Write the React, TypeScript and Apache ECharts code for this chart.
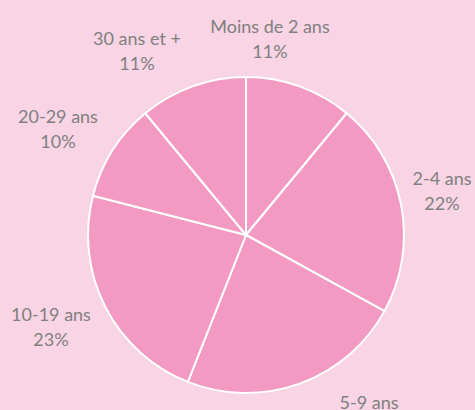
import React, { useEffect, useRef } from "react";
import * as echarts from "echarts";

const categories = ["Moins de 2 ans", "2-4 ans", "5-9 ans", "10-19 ans", "20-29 ans", "30 ans et +"];
const shares = [11, 22, 23, 23, 10, 11];
// label centre positions (text only)
const labelPos: [number, number][] = [
  [270, 38],
  [442, 190],
  [369, 414],
  [51, 326],
  [58, 128],
  [137, 50],
];

export default function App() {
  const ref = useRef<HTMLDivElement>(null);
  useEffect(() => {
    document.body.style.margin = "0";
    const chart = echarts.init(ref.current!, null, { renderer: "svg" });
    chart.setOption({
      animation: false,
      backgroundColor: "#F9D4E4",
      series: [
        {
          type: "pie",
          center: [246, 235],
          radius: 158,
          startAngle: 90,
          clockwise: true,
          data: categories.map((c, i) => ({ name: c, value: shares[i] })),
          itemStyle: { color: "#F39AC2", borderColor: "#ffffff", borderWidth: 2 },
          label: {
            show: true,
            position: "outside",
            formatter: (p: any) => `${p.name}\n${p.value}%`,
            color: "#808080",
            fontFamily: "Lato",
            fontSize: 18,
            lineHeight: 25,
            align: "center",
            overflow: "none",
          },
          labelLine: { show: false },
          labelLayout: (p: any) => ({
            x: labelPos[p.dataIndex][0],
            y: labelPos[p.dataIndex][1],
            align: "center",
            verticalAlign: "middle",
          }),
          emphasis: { disabled: true },
        },
      ],
    });
    return () => chart.dispose();
  }, []);
  return <div ref={ref} style={{ width: 475, height: 410 }} />;
}
